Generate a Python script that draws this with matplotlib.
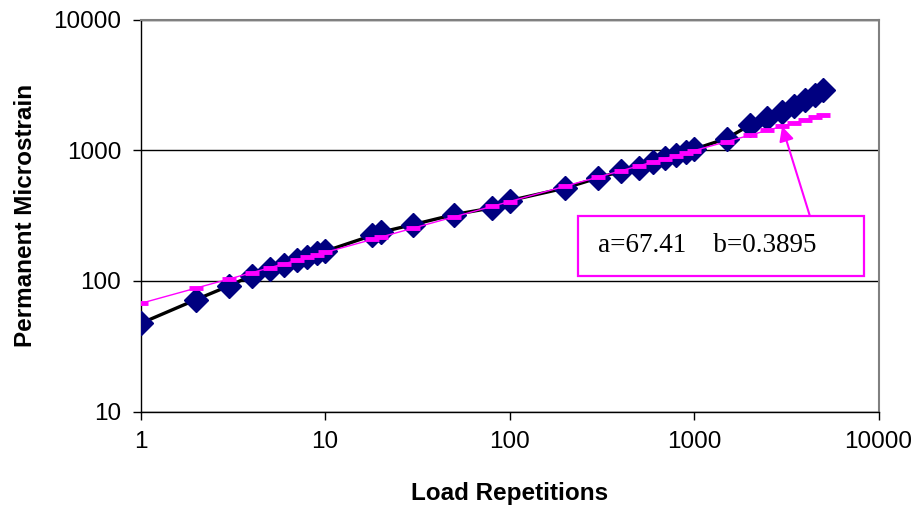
"""Permanent microstrain vs load repetitions, with power-law fit."""

import matplotlib

matplotlib.use("Agg")
import matplotlib.pyplot as plt
from matplotlib.patches import Rectangle
from matplotlib.ticker import FixedLocator, FixedFormatter, NullLocator

# Load repetitions (cycles)
cycles = [1, 2, 3, 4, 5, 6, 7, 8, 9, 10, 18, 20, 30, 50, 80, 100,
          200, 300, 400, 500, 600, 700, 800, 900, 1000,
          1500, 2000, 2500, 3000, 3500, 4000, 4500, 5000]

# Measured permanent microstrain
strain = [47.4, 72.1, 91.5, 110, 123, 132, 145, 153, 163, 169, 223, 236,
          270, 322, 362, 412, 514, 613, 689, 738, 816, 871, 922, 978, 1018,
          1230, 1553, 1754, 1971, 2178, 2408, 2630, 2872]

# Power-law fit a*N^b (a=67.41, b=0.3895) evaluated at the same cycles
fit = [67.4, 88.3, 103.4, 115.7, 126.2, 135.5, 143.8, 151.5, 158.6, 165.3,
       207.8, 216.5, 253.6, 309.4, 371.5, 405.2, 530.9, 621.7, 695.4, 758.6,
       814.4, 864.8, 911.0, 953.7, 993.7, 1163.6, 1301.6, 1419.8, 1524.2,
       1618.5, 1704.9, 1784.9, 1859.7]

fit_label = "a=67.41    b=0.3895"
arrow_at = 3000

plt.rcParams["font.family"] = ["Liberation Sans", "DejaVu Sans"]

fig = plt.figure(figsize=(9.2, 5.14), dpi=100)
ax = fig.add_axes([0.1529, 0.199, 0.802, 0.763])

ax.plot(cycles, strain, color="black", linewidth=2.4, marker="D",
        markersize=12, markerfacecolor="#000080", markeredgecolor="#000080",
        zorder=3)
ax.plot(cycles, fit, color="#FF00FF", linewidth=1.0, marker="_",
        markersize=10, markeredgewidth=3.5, zorder=4)

ax.set_xscale("log")
ax.set_yscale("log")
ax.set_xlim(1, 10000)
ax.set_ylim(10, 10000)

xt = [1, 10, 100, 1000, 10000]
yt = [10, 100, 1000, 10000]
ax.xaxis.set_major_locator(FixedLocator(xt))
ax.xaxis.set_major_formatter(FixedFormatter([str(v) for v in xt]))
ax.yaxis.set_major_locator(FixedLocator(yt))
ax.yaxis.set_major_formatter(FixedFormatter([str(v) for v in yt]))
ax.xaxis.set_minor_locator(NullLocator())
ax.yaxis.set_minor_locator(NullLocator())

ax.tick_params(axis="both", direction="out", length=6, width=1,
               labelsize=17.5, color="black")
ax.tick_params(axis="x", pad=8)
ax.tick_params(axis="y", pad=8)

ax.grid(True, axis="y", color="black", linewidth=1.0)
ax.set_axisbelow(True)

for side in ("left", "bottom"):
    ax.spines[side].set_color("black")
    ax.spines[side].set_linewidth(1.0)
for side in ("top", "right"):
    ax.spines[side].set_color("#808080")
    ax.spines[side].set_linewidth(1.5)

ax.set_xlabel("Load Repetitions", fontsize=17.5, fontweight="bold", labelpad=21)
ax.set_ylabel("Permanent Microstrain", fontsize=17.5, fontweight="bold",
              labelpad=12)

# Fit parameter box with arrow to the fit line
ax.add_patch(Rectangle((0.593, 0.346), 0.387, 0.153, transform=ax.transAxes,
                       facecolor="white", edgecolor="#FF00FF", linewidth=1.6,
                       zorder=5))
ax.text(0.620, 0.425, fit_label, transform=ax.transAxes, fontsize=19.5,
        family=["Liberation Serif", "DejaVu Serif"], va="center", ha="left",
        zorder=6)
ax.annotate("", xy=(arrow_at, fit[cycles.index(arrow_at)]),
            xytext=(0.907, 0.499), textcoords="axes fraction",
            arrowprops=dict(arrowstyle="-|>", color="#FF00FF", lw=1.5,
                            mutation_scale=22, shrinkA=0, shrinkB=0),
            zorder=6)

fig.savefig("out.png", dpi=100)
